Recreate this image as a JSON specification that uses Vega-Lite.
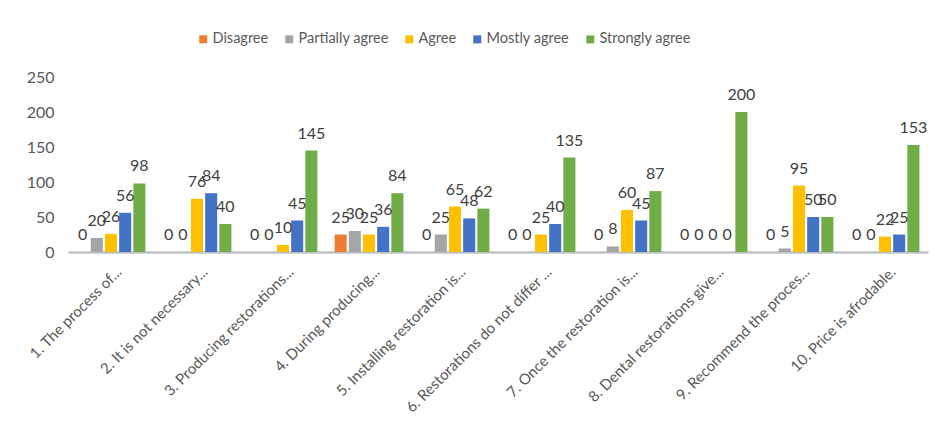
{
  "$schema": "https://vega.github.io/schema/vega-lite/v6.json",
  "autosize": "none",
  "width": 860,
  "height": 175,
  "padding": {"left": 68, "top": 77, "right": 19, "bottom": 176},
  "background": "white",
  "config": {
    "view": {"stroke": null},
    "font": "Lato",
    "axis": {"grid": false, "ticks": false, "labelColor": "#595959", "labelFont": "Lato"},
    "legend": {"labelFont": "Lato"}
  },
  "data": {
    "values": [
      {"q": "1. The process of...", "s": "Disagree", "v": 0},
      {"q": "1. The process of...", "s": "Partially agree", "v": 20},
      {"q": "1. The process of...", "s": "Agree", "v": 26},
      {"q": "1. The process of...", "s": "Mostly agree", "v": 56},
      {"q": "1. The process of...", "s": "Strongly agree", "v": 98},
      {"q": "2. It is not necessary...", "s": "Disagree", "v": 0},
      {"q": "2. It is not necessary...", "s": "Partially agree", "v": 0},
      {"q": "2. It is not necessary...", "s": "Agree", "v": 76},
      {"q": "2. It is not necessary...", "s": "Mostly agree", "v": 84},
      {"q": "2. It is not necessary...", "s": "Strongly agree", "v": 40},
      {"q": "3. Producing restorations...", "s": "Disagree", "v": 0},
      {"q": "3. Producing restorations...", "s": "Partially agree", "v": 0},
      {"q": "3. Producing restorations...", "s": "Agree", "v": 10},
      {"q": "3. Producing restorations...", "s": "Mostly agree", "v": 45},
      {"q": "3. Producing restorations...", "s": "Strongly agree", "v": 145},
      {"q": "4. During producing...", "s": "Disagree", "v": 25},
      {"q": "4. During producing...", "s": "Partially agree", "v": 30},
      {"q": "4. During producing...", "s": "Agree", "v": 25},
      {"q": "4. During producing...", "s": "Mostly agree", "v": 36},
      {"q": "4. During producing...", "s": "Strongly agree", "v": 84},
      {"q": "5. Installing restoration is...", "s": "Disagree", "v": 0},
      {"q": "5. Installing restoration is...", "s": "Partially agree", "v": 25},
      {"q": "5. Installing restoration is...", "s": "Agree", "v": 65},
      {"q": "5. Installing restoration is...", "s": "Mostly agree", "v": 48},
      {"q": "5. Installing restoration is...", "s": "Strongly agree", "v": 62},
      {"q": "6. Restorations do not differ ...", "s": "Disagree", "v": 0},
      {"q": "6. Restorations do not differ ...", "s": "Partially agree", "v": 0},
      {"q": "6. Restorations do not differ ...", "s": "Agree", "v": 25},
      {"q": "6. Restorations do not differ ...", "s": "Mostly agree", "v": 40},
      {"q": "6. Restorations do not differ ...", "s": "Strongly agree", "v": 135},
      {"q": "7. Once  the restoration is...", "s": "Disagree", "v": 0},
      {"q": "7. Once  the restoration is...", "s": "Partially agree", "v": 8},
      {"q": "7. Once  the restoration is...", "s": "Agree", "v": 60},
      {"q": "7. Once  the restoration is...", "s": "Mostly agree", "v": 45},
      {"q": "7. Once  the restoration is...", "s": "Strongly agree", "v": 87},
      {"q": "8. Dental restorations give...", "s": "Disagree", "v": 0},
      {"q": "8. Dental restorations give...", "s": "Partially agree", "v": 0},
      {"q": "8. Dental restorations give...", "s": "Agree", "v": 0},
      {"q": "8. Dental restorations give...", "s": "Mostly agree", "v": 0},
      {"q": "8. Dental restorations give...", "s": "Strongly agree", "v": 200},
      {"q": "9. Recommend the proces...", "s": "Disagree", "v": 0},
      {"q": "9. Recommend the proces...", "s": "Partially agree", "v": 5},
      {"q": "9. Recommend the proces...", "s": "Agree", "v": 95},
      {"q": "9. Recommend the proces...", "s": "Mostly agree", "v": 50},
      {"q": "9. Recommend the proces...", "s": "Strongly agree", "v": 50},
      {"q": "10. Price is afrodable.", "s": "Disagree", "v": 0},
      {"q": "10. Price is afrodable.", "s": "Partially agree", "v": 0},
      {"q": "10. Price is afrodable.", "s": "Agree", "v": 22},
      {"q": "10. Price is afrodable.", "s": "Mostly agree", "v": 25},
      {"q": "10. Price is afrodable.", "s": "Strongly agree", "v": 153}
    ]
  },
  "encoding": {
    "x": {
      "field": "q", "type": "nominal", "sort": null, "title": null,
      "scale": {"paddingInner": 0.2, "paddingOuter": 0.1},
      "axis": {
        "labelAngle": -45, "labelAlign": "right", "labelBaseline": "middle",
        "labelFontSize": 15, "labelPadding": 17, "labelOffset": 8, "labelLimit": 300,
        "domain": true, "domainColor": "#BFC3C7", "domainWidth": 2.5
      }
    },
    "xOffset": {
      "field": "s", "type": "nominal",
      "sort": ["Disagree", "Partially agree", "Agree", "Mostly agree", "Strongly agree"],
      "scale": {"paddingInner": 0.15}
    },
    "y": {
      "field": "v", "type": "quantitative", "title": null,
      "scale": {"domain": [0, 250]},
      "axis": {"values": [0, 50, 100, 150, 200, 250], "domain": false, "labelFontSize": 16, "labelPadding": 14}
    }
  },
  "layer": [
    {
      "mark": {"type": "bar"},
      "encoding": {
        "color": {
          "field": "s", "type": "nominal", "title": null,
          "sort": ["Disagree", "Partially agree", "Agree", "Mostly agree", "Strongly agree"],
          "scale": {
            "domain": ["Disagree", "Partially agree", "Agree", "Mostly agree", "Strongly agree"],
            "range": ["#ED7D31", "#A5A5A5", "#FFC000", "#4472C4", "#70AD47"]
          },
          "legend": {
            "orient": "none", "direction": "horizontal", "legendX": 128, "legendY": -45,
            "symbolType": "square", "symbolSize": 64, "symbolStrokeWidth": 0,
            "labelFontSize": 14.5, "labelColor": "#595959", "labelOffset": 2, "columnPadding": 13
          }
        }
      }
    },
    {
      "mark": {"type": "text", "baseline": "bottom", "dy": -9, "fontSize": 16, "color": "#404040", "font": "Lato"},
      "encoding": {"text": {"field": "v", "type": "quantitative"}}
    }
  ]
}
